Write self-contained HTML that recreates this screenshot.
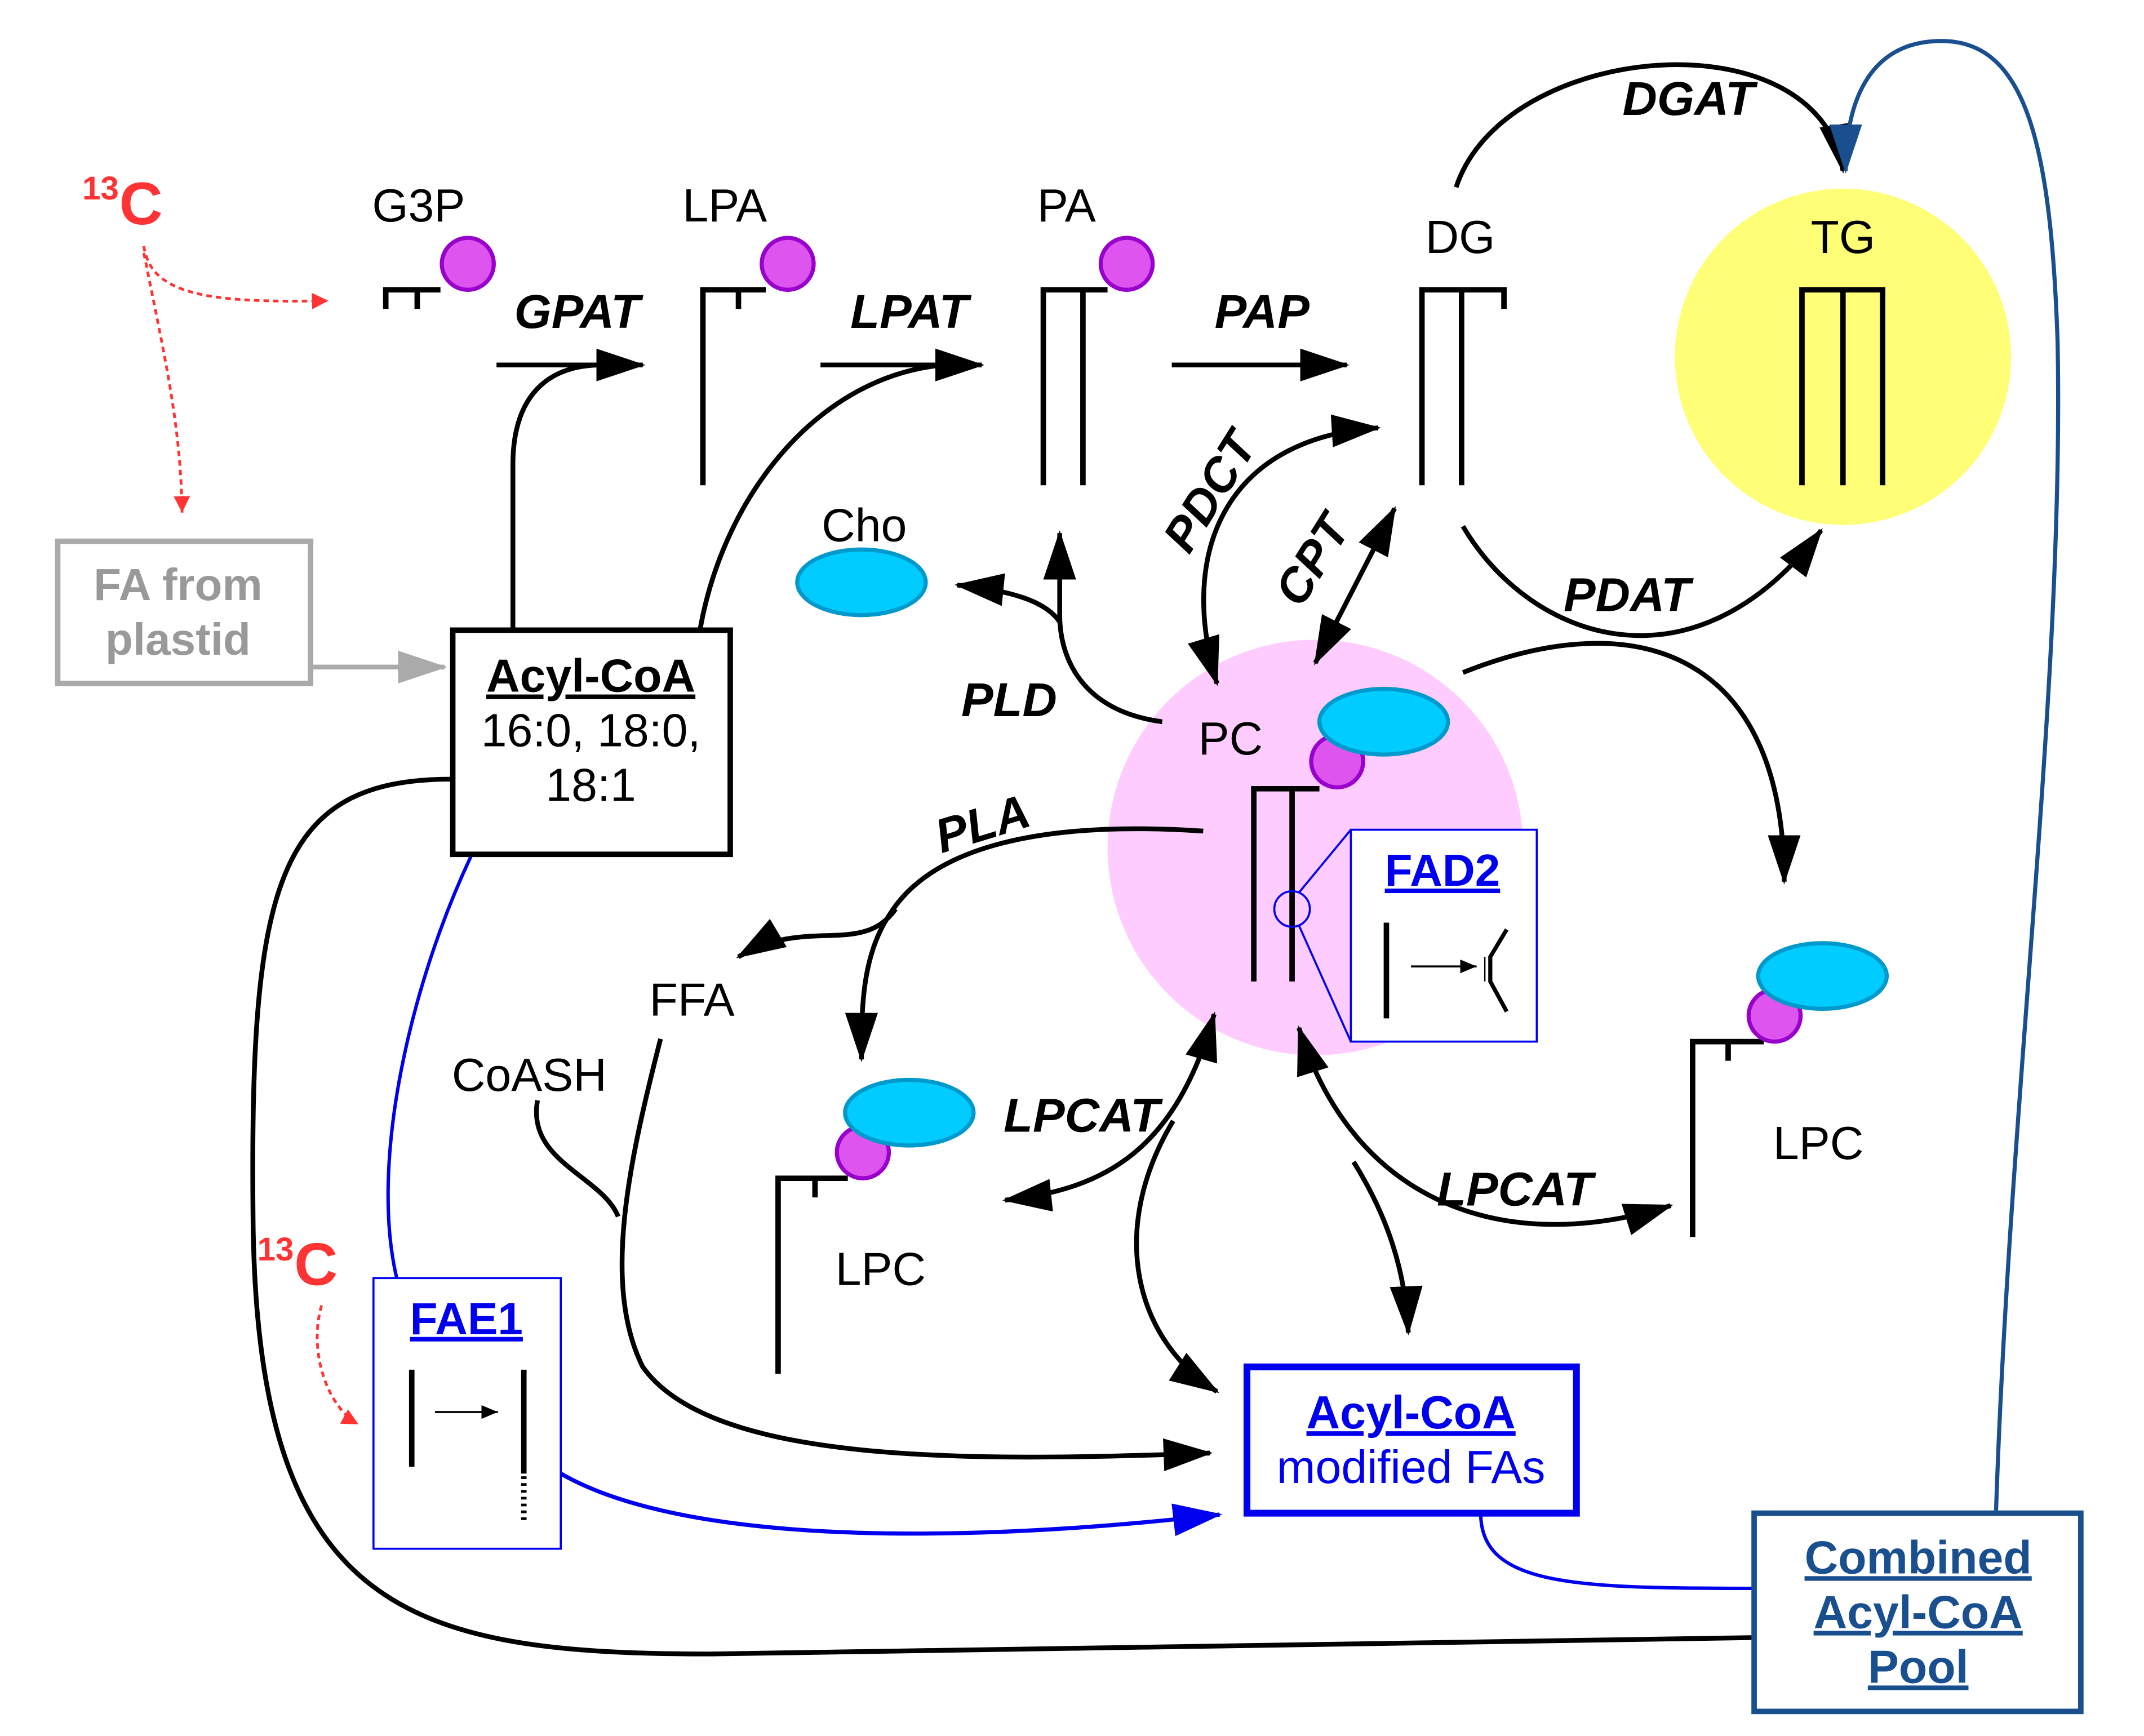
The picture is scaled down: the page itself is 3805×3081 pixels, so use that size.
<!DOCTYPE html>
<html><head><meta charset="utf-8"><style>
html,body{margin:0;padding:0;background:#fff}
svg{display:block}
text{font-family:"Liberation Sans",sans-serif}
</style></head><body>
<svg width="3805" height="3081" viewBox="0 0 1568 1270" xmlns="http://www.w3.org/2000/svg">
<defs>
<marker id="a" markerUnits="userSpaceOnUse" markerWidth="40" markerHeight="30" refX="34" refY="12" orient="auto"><path d="M0,0 L36,12 L0,24 Z" fill="#000"/></marker>
<marker id="as" markerUnits="userSpaceOnUse" markerWidth="40" markerHeight="30" refX="2" refY="12" orient="auto"><path d="M36,0 L0,12 L36,24 Z" fill="#000"/></marker>
<marker id="ab" markerUnits="userSpaceOnUse" markerWidth="40" markerHeight="30" refX="34" refY="12" orient="auto"><path d="M0,0 L36,12 L0,24 Z" fill="#0000ee"/></marker>
<marker id="an" markerUnits="userSpaceOnUse" markerWidth="40" markerHeight="30" refX="34" refY="12" orient="auto"><path d="M0,0 L36,12 L0,24 Z" fill="#1a4f8f"/></marker>
<marker id="ag" markerUnits="userSpaceOnUse" markerWidth="40" markerHeight="30" refX="34" refY="12" orient="auto"><path d="M0,0 L36,12 L0,24 Z" fill="#aaa"/></marker>
<marker id="ar" markerUnits="userSpaceOnUse" markerWidth="16" markerHeight="14" refX="12" refY="6" orient="auto"><path d="M0,0 L12,6 L0,12 Z" fill="#f33"/></marker>
<marker id="sm" markerUnits="userSpaceOnUse" markerWidth="16" markerHeight="14" refX="12" refY="5" orient="auto"><path d="M0,0 L12,5 L0,10 Z" fill="#000"/></marker>
</defs>

<circle cx="962" cy="620" r="152" fill="#ffccff"/>
<circle cx="1348" cy="261" r="123" fill="#ffff77"/>

<g fill="none" stroke="#000" stroke-width="3.5">
<path d="M363,267 L470,267" marker-end="url(#a)"/>
<path d="M600,267 L718,267" marker-end="url(#a)"/>
<path d="M857,267 L985,267" marker-end="url(#a)"/>
<path d="M375,460 L375,340 C375,290 400,267 440,267"/>
<path d="M512,460 C530,360 600,275 690,267"/>
<path d="M1065,137 C1100,30 1330,10 1348,125" marker-end="url(#a)"/>
<path d="M850,528 C790,520 775,480 775,450 L775,390" marker-end="url(#a)"/>
<path d="M775,455 C765,440 740,432 700,428" marker-end="url(#a)"/>
<path d="M890,500 C860,400 900,320 1008,313" marker-start="url(#as)" marker-end="url(#a)"/>
<path d="M962,485 L1020,372" marker-start="url(#as)" marker-end="url(#a)"/>
<path d="M1070,385 C1120,470 1240,510 1332,388" marker-end="url(#a)"/>
<path d="M1070,492 C1200,440 1305,480 1305,645" marker-end="url(#a)"/>
<path d="M880,608 C760,600 680,620 650,670 C630,700 630,740 630,775" marker-end="url(#a)"/>
<path d="M655,665 C630,700 590,670 540,700" marker-end="url(#a)"/>
<path d="M888,742 C860,840 810,870 735,878" marker-start="url(#as)" marker-end="url(#a)"/>
<path d="M858,820 C810,900 830,980 890,1018" marker-end="url(#a)"/>
<path d="M950,752 C990,880 1100,920 1222,882" marker-start="url(#as)" marker-end="url(#a)"/>
<path d="M990,850 C1015,890 1028,930 1030,975" marker-end="url(#a)"/>
<path d="M483,760 C460,850 440,940 470,1000 C520,1070 700,1070 885,1063" marker-end="url(#a)"/>
<path d="M393,805 C385,850 440,860 452,890"/>
<path d="M330,570 C200,570 182,650 185,900 C190,1180 300,1210 520,1210 L1283,1198"/>
</g>

<rect x="42" y="396" width="185" height="104" fill="none" stroke="#aaa" stroke-width="4"/>
<text x="130" y="439" font-size="33" font-weight="bold" fill="#999" text-anchor="middle">FA from</text>
<text x="130" y="479" font-size="33" font-weight="bold" fill="#999" text-anchor="middle">plastid</text>
<path d="M228,488 L325,488" stroke="#aaa" stroke-width="3.5" fill="none" marker-end="url(#ag)"/>

<text x="60" y="146" font-size="24" font-weight="bold" fill="#f33">13</text>
<text x="87" y="164" font-size="44" font-weight="bold" fill="#f33">C</text>
<path d="M105,180 C110,215 150,222 240,220" fill="none" stroke="#f33" stroke-width="2" stroke-dasharray="4,3" marker-end="url(#ar)"/>
<path d="M105,185 C120,260 132,310 133,375" fill="none" stroke="#f33" stroke-width="2" stroke-dasharray="4,3" marker-end="url(#ar)"/>
<text x="188" y="922" font-size="24" font-weight="bold" fill="#f33">13</text>
<text x="215" y="940" font-size="44" font-weight="bold" fill="#f33">C</text>
<path d="M235,955 C225,990 240,1030 262,1042" fill="none" stroke="#f33" stroke-width="2" stroke-dasharray="4,3" marker-end="url(#ar)"/>

<path d="M345,625 C300,720 270,850 290,935" fill="none" stroke="#0000ee" stroke-width="2.5"/>
<path d="M410,1078 C500,1130 700,1130 892,1108" fill="none" stroke="#0000ee" stroke-width="3" marker-end="url(#ab)"/>
<path d="M1083,1107 C1083,1160 1150,1162 1283,1162" fill="none" stroke="#0000ee" stroke-width="2.5"/>
<path d="M1460,1105 C1470,800 1510,500 1505,250 C1500,100 1480,30 1420,30 C1370,30 1350,70 1350,125" fill="none" stroke="#1a4f8f" stroke-width="3" marker-end="url(#an)"/>

<g fill="none" stroke="#000" stroke-width="4">
<path d="M280,212 H322 M282,212 V226 M305,212 V226"/>
<path d="M514,355 V212 H560 M540,212 V226"/>
<path d="M763,355 V212 H810 M792,212 V355"/>
<path d="M1040,355 V212 H1100 V226 M1069,212 V355"/>
<path d="M1318,355 V212 H1377 V355 M1348,212 V355"/>
<path d="M917,718 V577 H965 M945,577 V718"/>
<path d="M1238,905 V762 H1290 M1264,762 V776"/>
<path d="M569,1005 V862 H620 M596,862 V876"/>
</g>

<g fill="#dd55ee" stroke="#9900cc" stroke-width="3">
<circle cx="342" cy="193" r="19"/>
<circle cx="576" cy="193" r="19"/>
<circle cx="824" cy="193" r="19"/>
<circle cx="978" cy="557" r="19"/>
<circle cx="1298" cy="743" r="19"/>
<circle cx="631" cy="843" r="19"/>
</g>
<g fill="#00ccff" stroke="#0099cc" stroke-width="3">
<ellipse cx="630" cy="426" rx="47" ry="24"/>
<ellipse cx="1012" cy="528" rx="47" ry="24"/>
<ellipse cx="1333" cy="714" rx="47" ry="24"/>
<ellipse cx="665" cy="814" rx="47" ry="24"/>
</g>

<circle cx="945" cy="665" r="13" fill="none" stroke="#0000ee" stroke-width="1.5"/>
<path d="M950,653 L988,607 M950,677 L988,762" stroke="#0000ee" stroke-width="1.5"/>
<rect x="988" y="607" width="136" height="155" fill="#fff" stroke="#0000ee" stroke-width="1.5"/>
<text x="1055" y="648" font-size="33" font-weight="bold" fill="#0000ee" text-anchor="middle" text-decoration="underline">FAD2</text>
<path d="M1014,675 V745" stroke="#000" stroke-width="4"/>
<path d="M1032,707 L1080,707" stroke="#000" stroke-width="1.5" marker-end="url(#sm)"/>
<path d="M1102,680 L1090,700 L1090,718 L1102,740" fill="none" stroke="#000" stroke-width="3"/>
<path d="M1086,700 V718" stroke="#000" stroke-width="1"/>

<rect x="273" y="935" width="137" height="198" fill="#fff" stroke="#0000ee" stroke-width="1.5"/>
<text x="341" y="976" font-size="33" font-weight="bold" fill="#0000ee" text-anchor="middle" text-decoration="underline">FAE1</text>
<path d="M301,1002 V1073 M383,1002 V1078" stroke="#000" stroke-width="4"/>
<path d="M383,1080 V1115" stroke="#000" stroke-width="4" stroke-dasharray="2,3"/>
<path d="M318,1033 L364,1033" stroke="#000" stroke-width="1.5" marker-end="url(#sm)"/>

<rect x="331" y="461" width="203" height="164" fill="#fff" stroke="#000" stroke-width="4"/>
<g font-size="34" text-anchor="middle">
<text x="432" y="506" font-weight="bold" text-decoration="underline">Acyl-CoA</text>
<text x="432" y="546">16:0, 18:0,</text>
<text x="432" y="586">18:1</text>
</g>

<rect x="912" y="1000" width="241" height="107" fill="#fff" stroke="#0000ee" stroke-width="5"/>
<text x="1032" y="1045" font-size="34" font-weight="bold" fill="#0000ee" text-anchor="middle" text-decoration="underline">Acyl-CoA</text>
<text x="1032" y="1085" font-size="34" fill="#0000ee" text-anchor="middle">modified FAs</text>

<rect x="1283" y="1107" width="239" height="145" fill="#fff" stroke="#1a4f8f" stroke-width="4"/>
<g font-size="34" font-weight="bold" fill="#1a4f8f" text-anchor="middle" text-decoration="underline">
<text x="1403" y="1151">Combined</text>
<text x="1403" y="1191">Acyl-CoA</text>
<text x="1403" y="1231">Pool</text>
</g>

<g font-size="34" text-anchor="middle">
<text x="306" y="162">G3P</text>
<text x="530" y="162">LPA</text>
<text x="780" y="162">PA</text>
<text x="1068" y="185">DG</text>
<text x="1348" y="185">TG</text>
<text x="632" y="396">Cho</text>
<text x="900" y="552">PC</text>
<text x="506" y="743">FFA</text>
<text x="387" y="798">CoASH</text>
<text x="1330" y="848">LPC</text>
<text x="644" y="940">LPC</text>
</g>
<g font-size="35" font-weight="bold" font-style="italic" text-anchor="middle">
<text x="422" y="240">GPAT</text>
<text x="665" y="240">LPAT</text>
<text x="923" y="240">PAP</text>
<text x="1235" y="84">DGAT</text>
<text x="738" y="524">PLD</text>
<text x="1190" y="447">PDAT</text>
<text x="791" y="828">LPCAT</text>
<text x="1108" y="882">LPCAT</text>
<text transform="translate(722,614) rotate(-17)">PLA</text>
<text transform="translate(895,366) rotate(-58)">PDCT</text>
<text transform="translate(970,416) rotate(-58)">CPT</text>
</g>
</svg>
</body></html>
